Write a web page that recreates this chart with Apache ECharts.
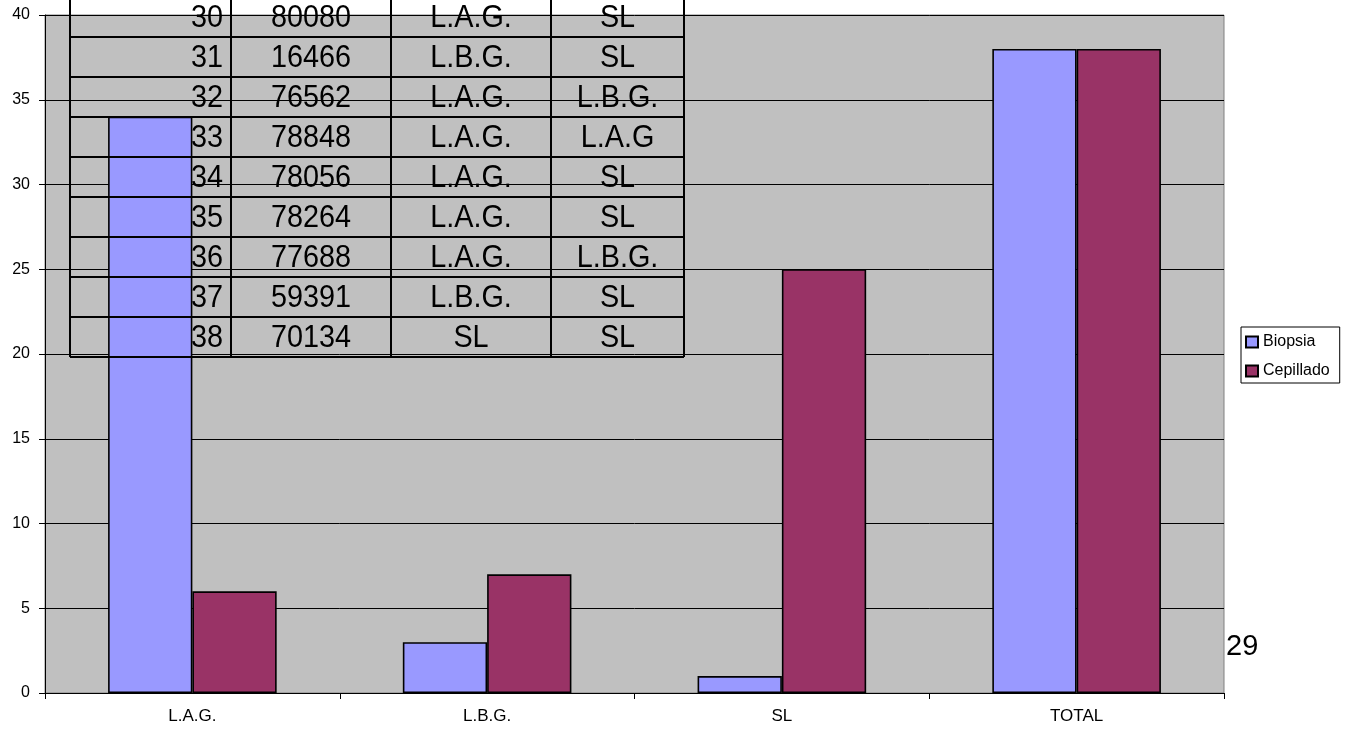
<!DOCTYPE html>
<html>
<head>
<meta charset="utf-8">
<script src="https://cdn.jsdelivr.net/npm/echarts@6/dist/echarts.min.js"></script>
<style>
  html, body { margin: 0; padding: 0; background: #fff; }
  #chart { width: 1351px; height: 729px; }
</style>
</head>
<body>
<div id="chart"></div>
<script>
// Chart data
const categories = ['L.A.G.', 'L.B.G.', 'SL', 'TOTAL'];
const biopsia = [34, 3, 1, 38];
const cepillado = [6, 7, 25, 38];

// Case table shown over the plot
const caseNums = ['30', '31', '32', '33', '34', '35', '36', '37', '38'];
const caseCodes = ['80080', '16466', '76562', '78848', '78056', '78264', '77688', '59391', '70134'];
const biopsiaResult = ['L.A.G.', 'L.B.G.', 'L.A.G.', 'L.A.G.', 'L.A.G.', 'L.A.G.', 'L.A.G.', 'L.B.G.', 'SL'];
const cepilladoResult = ['SL', 'SL', 'L.B.G.', 'L.A.G', 'SL', 'SL', 'L.B.G.', 'SL', 'SL'];

const pageNumber = '29';

// Table layout
const colEdges = [70, 231, 391, 551, 684];
const rowTop = -3;
const rowH = 40;
const tableFont = '32px "Liberation Sans", Arial, sans-serif';
const squeeze = 0.9;

function buildTable() {
  const els = [];
  const nRows = caseNums.length;
  const bottom = rowTop + nRows * rowH;
  for (let r = 0; r <= nRows; r++) {
    const y = rowTop + r * rowH;
    els.push({ type: 'line', shape: { x1: colEdges[0], y1: y, x2: colEdges[4], y2: y },
               style: { stroke: '#000', lineWidth: 2 }, z: 100 });
  }
  colEdges.forEach(x => {
    els.push({ type: 'line', shape: { x1: x, y1: rowTop, x2: x, y2: bottom },
               style: { stroke: '#000', lineWidth: 2 }, z: 100 });
  });
  const cols = [caseNums, caseCodes, biopsiaResult, cepilladoResult];
  for (let r = 0; r < nRows; r++) {
    const cy = rowTop + r * rowH + rowH / 2 + 1;
    cols.forEach((col, c) => {
      const right = c === 0;
      const x = right ? colEdges[1] - 8 : (colEdges[c] + colEdges[c + 1]) / 2;
      els.push({
        type: 'text', x: x, y: cy, scaleX: squeeze, z: 101,
        style: { text: col[r], x: 0, y: 0, font: tableFont, fill: '#000',
                 align: right ? 'right' : 'center', verticalAlign: 'middle' }
      });
    });
  }
  return els;
}

const chart = echarts.init(document.getElementById('chart'));
chart.setOption({
  animation: false,
  backgroundColor: '#fff',
  grid: {
    left: 45, right: 127, top: 15, bottom: 36,
    show: true, backgroundColor: '#c0c0c0', borderColor: '#808080', borderWidth: 1
  },
  legend: {
    orient: 'vertical',
    left: 1241, top: 327,
    padding: [6, 10, 3, 4],
    itemGap: 11,
    itemWidth: 12, itemHeight: 11,
    itemTextGap: 6,
    icon: 'rect',
    backgroundColor: '#fff',
    borderColor: '#000', borderWidth: 1,
    textStyle: { fontFamily: 'Liberation Sans, Arial, sans-serif', fontSize: 16, color: '#000', lineHeight: 18 },
    data: ['Biopsia', 'Cepillado']
  },
  xAxis: {
    type: 'category',
    data: categories,
    boundaryGap: true,
    axisLine: { lineStyle: { color: '#000', width: 1 } },
    axisTick: { show: true, length: 6, lineStyle: { color: '#000' } },
    axisLabel: { color: '#000', fontSize: 17, fontFamily: 'Liberation Sans, Arial, sans-serif', margin: 15 },
    splitLine: { show: false }
  },
  yAxis: {
    type: 'value',
    min: 0, max: 40, interval: 5,
    axisLine: { show: true, lineStyle: { color: '#000', width: 1 } },
    axisTick: { show: true, length: 6, lineStyle: { color: '#000' } },
    axisLabel: { color: '#000', fontSize: 16, fontFamily: 'Liberation Sans, Arial, sans-serif', margin: 15 },
    splitLine: { show: true, lineStyle: { color: '#000', width: 1 } }
  },
  series: [
    {
      name: 'Biopsia', type: 'bar', data: biopsia,
      barGap: '0%', barCategoryGap: '42.8%',
      itemStyle: { color: '#9999ff', borderColor: '#000', borderWidth: 1.6 }
    },
    {
      name: 'Cepillado', type: 'bar', data: cepillado,
      barGap: '0%', barCategoryGap: '42.8%',
      itemStyle: { color: '#993366', borderColor: '#000', borderWidth: 1.6 }
    }
  ],
  graphic: [
    { type: 'group', children: buildTable() },
    {
      type: 'text', x: 1226, y: 647, z: 100,
      style: { text: pageNumber, font: '29px "Liberation Sans", Arial, sans-serif', fill: '#000',
               align: 'left', verticalAlign: 'middle' }
    }
  ]
});
</script>
</body>
</html>
